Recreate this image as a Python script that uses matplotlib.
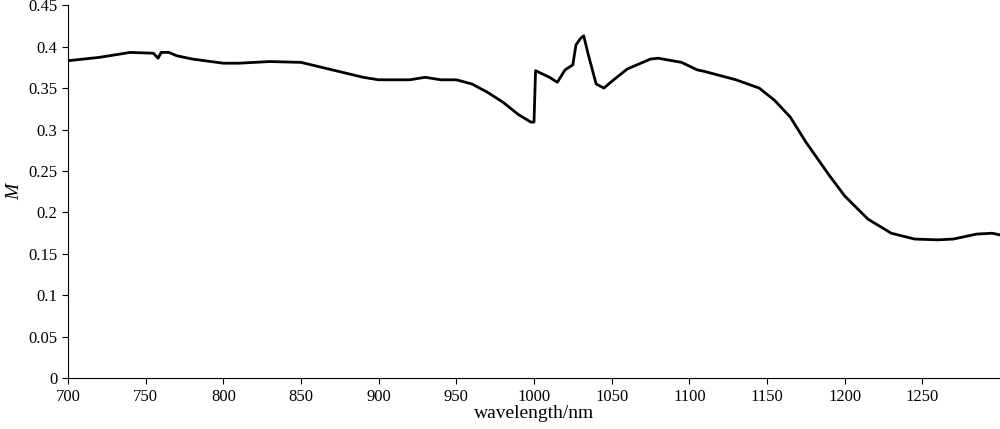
import matplotlib
matplotlib.use("Agg")
import matplotlib.pyplot as plt

wavelength = [700, 720, 740, 755, 758, 760, 765, 770, 780, 800, 810, 830, 850, 870, 890, 900,
              920, 930, 940, 950, 960, 970, 980, 990, 998, 1000, 1001, 1010, 1015, 1020, 1025,
              1027, 1030, 1032, 1035, 1040, 1045, 1050, 1060, 1075, 1080, 1095, 1105, 1110,
              1130, 1145, 1155, 1165, 1175, 1190, 1200, 1215, 1230, 1245, 1260, 1270, 1285,
              1295, 1300]
m_values = [0.383, 0.387, 0.393, 0.392, 0.386, 0.393, 0.393, 0.389, 0.385, 0.380, 0.380, 0.382,
            0.381, 0.372, 0.363, 0.360, 0.360, 0.363, 0.360, 0.360, 0.355, 0.345, 0.333, 0.318,
            0.309, 0.309, 0.371, 0.363, 0.357, 0.372, 0.378, 0.402, 0.410, 0.413, 0.390, 0.355,
            0.350, 0.358, 0.373, 0.385, 0.386, 0.381, 0.372, 0.370, 0.360, 0.350, 0.335, 0.315,
            0.285, 0.245, 0.220, 0.192, 0.175, 0.168, 0.167, 0.168, 0.174, 0.175, 0.173]

plt.rcParams['font.family'] = ['Liberation Serif', 'DejaVu Serif']

fig, ax = plt.subplots(figsize=(10, 4.29), dpi=100)
fig.subplots_adjust(left=0.068, right=1.0, top=0.988, bottom=0.118)
ax.plot(wavelength, m_values, color='black', linewidth=2)

ax.set_xlim(700, 1300)
ax.set_ylim(0, 0.45)
ax.set_xticks(range(700, 1300, 50))
ax.set_yticks([i * 0.05 for i in range(10)])
ax.set_yticklabels(['0', '0.05', '0.1', '0.15', '0.2', '0.25', '0.3', '0.35', '0.4', '0.45'])
ax.tick_params(labelsize=12, direction='out', length=4)
ax.spines['top'].set_visible(False)
ax.spines['right'].set_visible(False)
ax.set_xlabel('wavelength/nm', fontsize=14, labelpad=0)
ax.set_ylabel('M', fontsize=14, style='italic', labelpad=4)

fig.savefig('out.png')
